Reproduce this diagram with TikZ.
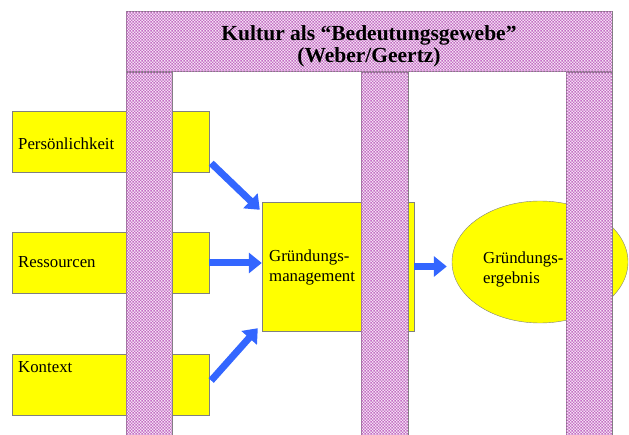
\documentclass[tikz,border=0pt]{standalone}
\usepackage{fontspec}
\setmainfont{Liberation Serif}
\usepackage{xcolor}
\usetikzlibrary{arrows.meta,positioning,patterns.meta,shapes.geometric}
\definecolor{gelb}{RGB}{255,255,0}
\definecolor{pfeilblau}{RGB}{51,102,255}
\definecolor{rosa}{RGB}{244,226,244}
\definecolor{lila}{RGB}{196,110,196}
\tikzdeclarepattern{
  name=feingewebe,
  type=uncolored,
  bounding box={(0pt,0pt) and (3.4pt,3.4pt)},
  tile size={(3.4pt,3.4pt)},
  code={
    \fill (0pt,0pt) rectangle (1.7pt,1.7pt);
    \fill (1.7pt,1.7pt) rectangle (3.4pt,3.4pt);
  }
}

\begin{document}
\begin{tikzpicture}[x=1pt,y=-1pt,
  box/.style={draw=gray,fill=gelb,inner sep=0pt,minimum width=197pt,minimum height=61pt},
  lbl/.style={inner sep=0pt,anchor=base west,font=\fontsize{16.8}{20}\selectfont},
  pillar/.style={draw=gray,fill=rosa,postaction={pattern={feingewebe},pattern color=lila}},
  pfeil/.style={pfeilblau,line width=7pt,-{Triangle[length=13pt,width=20pt]}}]
\useasboundingbox (0,0) rectangle (629,435);

\node[box] (pers) at (110.5,141.5) {};
\node[box] (res) at (110.5,263) {};
\node[box] (kon) at (110.5,384.5) {};
\node[lbl] (perstxt) at (18,150) {Persönlichkeit};
\node[lbl] (restxt) at (18,268) {Ressourcen};
\node[lbl] (kontxt) at (18,373) {Kontext};

\node[box,minimum width=152pt,minimum height=129pt] (mgmt) at (338,266.5) {};
\node[lbl,align=left] (mgmttxt) at (269,282) {Gründungs-\\management};

\node[ellipse,draw=gray,fill=gelb,minimum width=176pt,minimum height=122pt] (erg) at (540,262) {};
\node[lbl,align=left] (ergtxt) at (483,284) {Gründungs-\\ergebnis};

\draw[pillar] (126,72) rectangle (172,440);
\draw[pillar] (361,72) rectangle (408,440);
\draw[pillar] (566,72) rectangle (612,440);
\node[pillar,minimum width=486pt,minimum height=60pt] (kultur) at (369,41.5) {};
\node[align=center,anchor=base,inner sep=0pt,font=\fontsize{21.5}{22}\selectfont\bfseries]
      (kulturtxt) at (369,63) {Kultur als “Bedeutungsgewebe”\\(Weber/Geertz)};

\draw[pfeil] ([xshift=2pt,yshift=9pt]pers.south east) -- ([xshift=-2pt,yshift=-8pt]mgmt.north west);
\draw[pfeil] (res.east) -- (res.east -| mgmt.west);
\draw[pfeil] ([xshift=2pt,yshift=4pt]kon.east) -- ([xshift=-4pt,yshift=3pt]mgmt.south west);
\draw[pfeil] (mgmt.east) -- ([xshift=-5pt]mgmt.east -| erg.west);
\end{tikzpicture}
\end{document}
